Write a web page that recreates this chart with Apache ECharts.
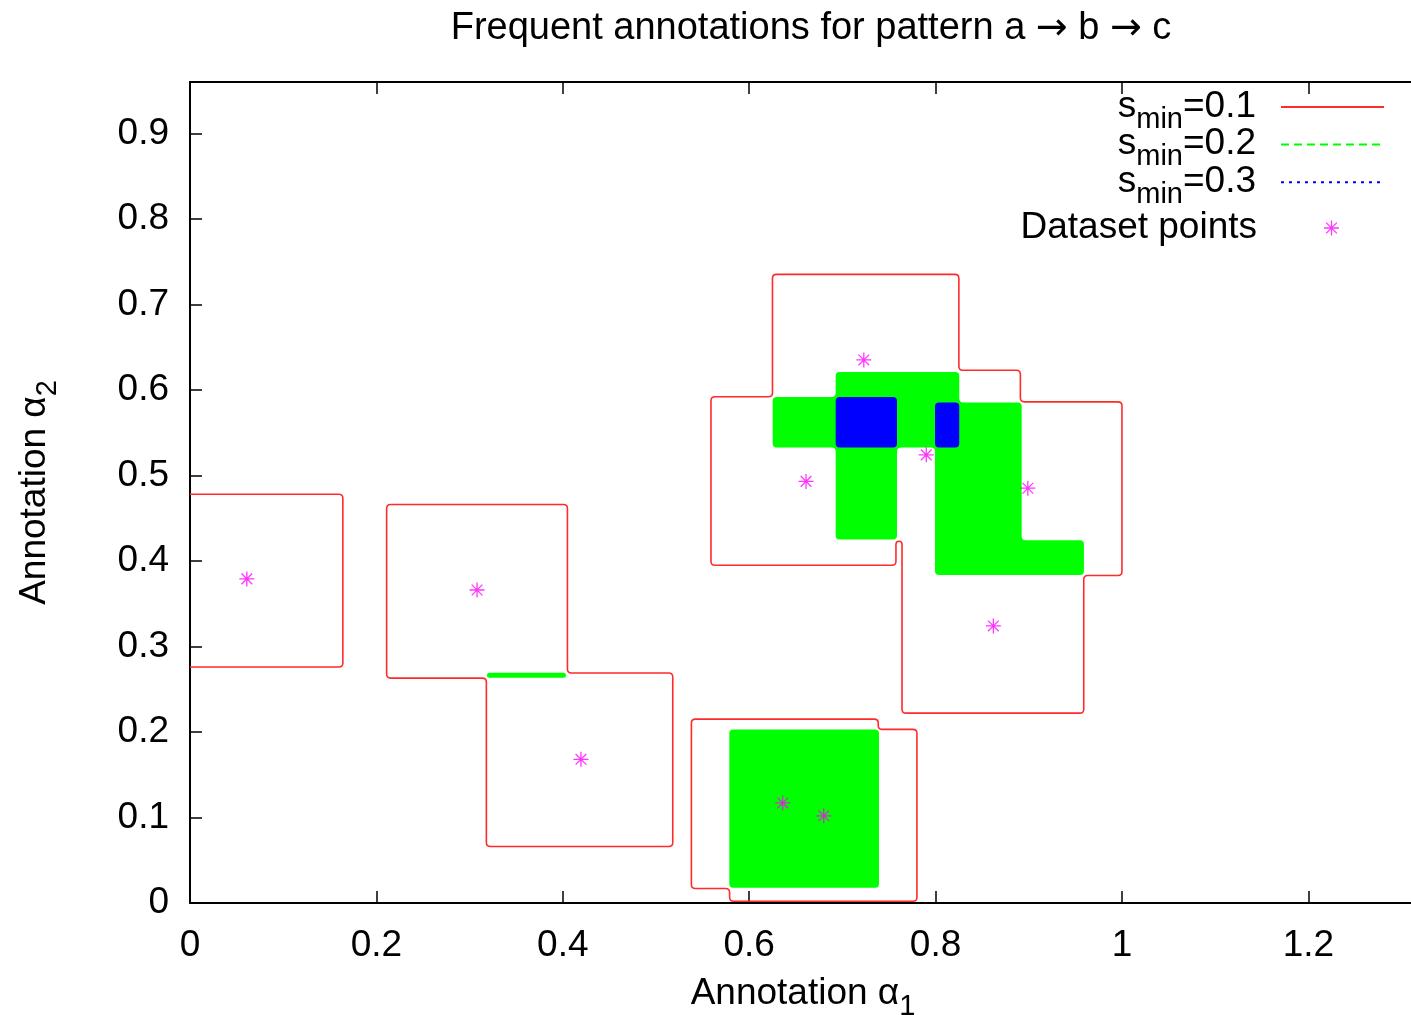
<!DOCTYPE html>
<html>
<head>
<meta charset="utf-8">
<script src="https://cdn.jsdelivr.net/npm/echarts@6/dist/echarts.min.js"></script>
<style>
  html, body { margin: 0; padding: 0; background: #fff; }
  #main { width: 1411px; height: 1015px; }
</style>
</head>
<body>
<div id="main"></div>
<script>
// tick values
var xTicks = [0, 0.2, 0.4, 0.6, 0.8, 1, 1.2];
var yTicks = [0, 0.1, 0.2, 0.3, 0.4, 0.5, 0.6, 0.7, 0.8, 0.9];

// s_min=0.1 : outlines of the frequent regions (vertices, data units)
var outline01 = [
  [[0, 0.478], [0.164, 0.478], [0.164, 0.276], [0, 0.276]],
  [[0.211, 0.466], [0.405, 0.466], [0.405, 0.269], [0.518, 0.269], [0.518, 0.066],
   [0.318, 0.066], [0.318, 0.263], [0.211, 0.263]],
  [[0.538, 0.215], [0.7385, 0.215], [0.7385, 0.203], [0.780, 0.203], [0.780, 0.002],
   [0.579, 0.002], [0.579, 0.017], [0.538, 0.017]],
  [[0.625, 0.735], [0.825, 0.735], [0.825, 0.623], [0.891, 0.623], [0.891, 0.586],
   [1.000, 0.586], [1.000, 0.383], [0.959, 0.383], [0.959, 0.222], [0.764, 0.222],
   [0.764, 0.423], [0.7575, 0.423], [0.7575, 0.395], [0.559, 0.395], [0.559, 0.592],
   [0.625, 0.592]]
];
var outline01Closed = [false, true, true, true];

// s_min=0.2 : filled regions
var region02 = [
  [[0.3187, 0.2692], [0.4034, 0.2692], [0.4034, 0.2633], [0.3187, 0.2633]],
  [[0.5787, 0.203], [0.7393, 0.203], [0.7393, 0.0179], [0.5787, 0.0179]],
  [[0.6928, 0.6209], [0.8254, 0.6209], [0.8254, 0.5852], [0.8924, 0.5852], [0.8924, 0.4243],
   [0.9592, 0.4243], [0.9592, 0.3834], [0.7994, 0.3834], [0.7994, 0.5326], [0.7586, 0.5326],
   [0.7586, 0.4251], [0.6928, 0.4251], [0.6928, 0.5326], [0.6252, 0.5326], [0.6252, 0.5918],
   [0.6928, 0.5918]]
];

// s_min=0.3 : filled regions
var region03 = [
  [[0.6928, 0.5918], [0.7586, 0.5918], [0.7586, 0.5326], [0.6928, 0.5326]],
  [[0.7994, 0.5852], [0.8254, 0.5852], [0.8254, 0.5326], [0.7994, 0.5326]]
];

// dataset points
var pointsX = [0.061, 0.308, 0.4195, 0.636, 0.680, 0.723, 0.661, 0.790, 0.899, 0.862];
var pointsY = [0.379, 0.366, 0.168, 0.117, 0.102, 0.635, 0.493, 0.524, 0.485, 0.324];

var FONT = 'Liberation Sans, Arial, sans-serif';
var FS = 37;
var RED = '#ff2a2a', GREEN = '#00ff00', BLUE = '#0000ff', MAGENTA = '#ff00ff';

var asterisk = 'path://M0,6.4H14V7.6H0Z M6.4,0H7.6V14H6.4Z' +
  ' M2.4,1.6L12.4,11.6L11.6,12.4L1.6,2.4Z M11.6,1.6L12.4,2.4L2.4,12.4L1.6,11.6Z';

// polyline / polygon with slightly rounded corners (pixel points)
function roundedPath(pts, r, closed) {
  var n = pts.length, d = '';
  for (var i = 0; i < n; i++) {
    var p = pts[i];
    if (!closed && (i === 0 || i === n - 1)) {
      d += (i === 0 ? 'M' : 'L') + p[0] + ',' + p[1];
      continue;
    }
    var a = pts[(i - 1 + n) % n], b = pts[(i + 1) % n];
    var la = Math.hypot(a[0] - p[0], a[1] - p[1]) || 1;
    var lb = Math.hypot(b[0] - p[0], b[1] - p[1]) || 1;
    var rr = Math.min(r, la / 2, lb / 2);
    var p1 = [p[0] + (a[0] - p[0]) * rr / la, p[1] + (a[1] - p[1]) * rr / la];
    var p2 = [p[0] + (b[0] - p[0]) * rr / lb, p[1] + (b[1] - p[1]) * rr / lb];
    d += (i === 0 ? 'M' : 'L') + p1[0] + ',' + p1[1] +
      'Q' + p[0] + ',' + p[1] + ' ' + p2[0] + ',' + p2[1];
  }
  if (closed) d += 'Z';
  return d;
}

function shapeSeries(name, list, closedList, style) {
  return {
    name: name,
    type: 'custom',
    silent: true,
    data: list.map(function (p) { return p[0]; }),
    renderItem: function (params, api) {
      var pts = list[params.dataIndex].map(function (v) { return api.coord(v); });
      var closed = closedList ? closedList[params.dataIndex] : true;
      return {
        type: 'path',
        shape: { pathData: roundedPath(pts, 4, closed) },
        style: style
      };
    }
  };
}

var subRich = {
  n: { fontSize: FS, lineHeight: 38, verticalAlign: 'top', fontFamily: FONT, color: '#000' },
  sub: { fontSize: 29, lineHeight: 46, verticalAlign: 'bottom', fontFamily: FONT, color: '#000' }
};

function legendFormatter(name) {
  var m = /^s_min(.*)$/.exec(name);
  return m ? '{n|s}{sub|min}{n|' + m[1] + '}' : '{n|' + name + '}';
}

function makeLegend(name, top, opts) {
  var l = {
    data: [name],
    orient: 'vertical',
    align: 'right',
    right: 26,
    top: top,
    padding: 0,
    itemWidth: 103,
    itemHeight: 14,
    selectedMode: false,
    itemStyle: { opacity: 0 },
    formatter: legendFormatter,
    textStyle: { rich: subRich, padding: [8, 20, 0, 0] }
  };
  for (var k in opts) l[k] = opts[k];
  return l;
}

var axisCommon = {
  type: 'value',
  axisLine: { onZero: false, lineStyle: { color: '#000', width: 2 } },
  splitLine: { show: false }
};

var chart = echarts.init(document.getElementById('main'));
chart.setOption({
  animation: false,
  backgroundColor: '#fff',
  title: {
    text: '{t|Frequent annotations for pattern a }{ar|\u2192}{t| b }{ar|\u2192}{t| c}',
    left: 811,
    top: 10,
    textAlign: 'center',
    padding: 0,
    textStyle: {
      fontSize: 38, fontWeight: 'normal', color: '#000', fontFamily: FONT,
      rich: {
        t: { fontSize: 38, fontFamily: FONT, color: '#000' },
        ar: { fontSize: 38, fontFamily: 'DejaVu Sans', color: '#000' }
      }
    }
  },
  grid: { left: 190, top: 82, width: 1226, height: 821, outerBoundsMode: 'none', containLabel: false },
  legend: [
    makeLegend('s_min=0.1', 88, {}),
    makeLegend('s_min=0.2', 125.6, {}),
    makeLegend('s_min=0.3', 163.2, {}),
    makeLegend('Dataset points', 209, {
      right: 72, itemWidth: 15, itemHeight: 15,
      itemStyle: {},
      data: [{ name: 'Dataset points', icon: asterisk }],
      textStyle: { rich: subRich, padding: [0, 62, 0, 0] }
    })
  ],
  xAxis: [
    Object.assign({}, axisCommon, {
      position: 'bottom', min: 0, max: 1.3155,
      axisTick: { inside: true, length: 12, customValues: xTicks, lineStyle: { color: '#000', width: 1.5 } },
      axisLabel: { customValues: xTicks, color: '#000', fontSize: FS, fontFamily: FONT, margin: 24 },
      name: '{n|Annotation \u03b1}{sub|1}',
      nameLocation: 'middle',
      nameGap: 72,
      nameTextStyle: { rich: subRich }
    }),
    Object.assign({}, axisCommon, {
      position: 'top', min: 0, max: 1.3155,
      axisTick: { inside: true, length: 12, customValues: xTicks, lineStyle: { color: '#000', width: 1.5 } },
      axisLabel: { show: false }
    })
  ],
  yAxis: [
    Object.assign({}, axisCommon, {
      position: 'left', min: 0, max: 0.96,
      axisTick: { inside: true, length: 12, customValues: yTicks, lineStyle: { color: '#000', width: 1.5 } },
      axisLabel: { customValues: yTicks, color: '#000', fontSize: FS, fontFamily: FONT, margin: 21 },
      name: '{n|Annotation \u03b1}{sub|2}',
      nameLocation: 'middle',
      nameGap: 128,
      nameTextStyle: { rich: subRich }
    })
  ],
  series: [
    { name: 's_min=0.1', type: 'line', data: [], symbol: 'none',
      lineStyle: { color: RED, width: 1.6 }, itemStyle: { color: RED } },
    { name: 's_min=0.2', type: 'line', data: [], symbol: 'none',
      lineStyle: { color: GREEN, width: 1.6, type: [8, 5] }, itemStyle: { color: GREEN } },
    { name: 's_min=0.3', type: 'line', data: [], symbol: 'none',
      lineStyle: { color: BLUE, width: 1.6, type: [3, 5] }, itemStyle: { color: BLUE } },
    shapeSeries('s_min=0.1', outline01, outline01Closed, { fill: 'none', stroke: RED, lineWidth: 1.6 }),
    shapeSeries('s_min=0.2', region02, null, { fill: GREEN }),
    shapeSeries('s_min=0.3', region03, null, { fill: BLUE }),
    {
      name: 'Dataset points',
      type: 'scatter',
      symbol: asterisk,
      symbolSize: 15,
      itemStyle: { color: MAGENTA },
      data: pointsX.map(function (x, i) { return [x, pointsY[i]]; })
    }
  ]
});
</script>
</body>
</html>
